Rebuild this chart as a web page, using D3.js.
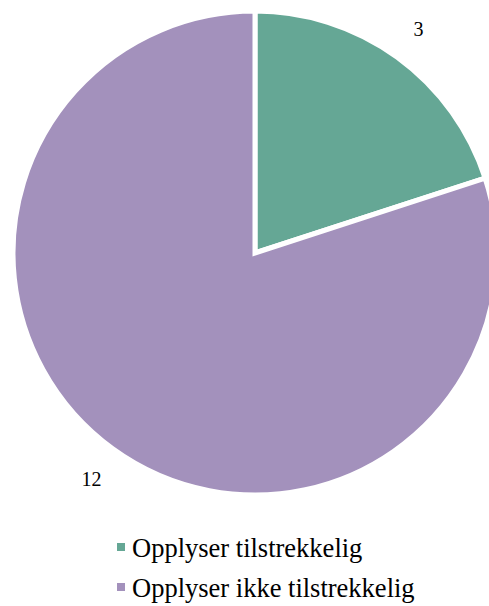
<!DOCTYPE html>
<html>
<head>
<meta charset="utf-8">
<script src="https://cdn.jsdelivr.net/npm/d3@7"></script>
<style>
  html, body { margin: 0; padding: 0; background: #fff; }
  svg { display: block; }
</style>
</head>
<body>
<svg id="chart" width="489" height="606"></svg>
<script>
const categories = ["Opplyser tilstrekkelig", "Opplyser ikke tilstrekkelig"];
const values = [3, 12];
const colors = ["#65a795", "#a391bc"];

const serif = "Liberation Serif, serif";
const svg = d3.select("#chart");
const cx = 255, cy = 253, radius = 242;

const pie = d3.pie().sort(null).value(d => d)(values);
const arc = d3.arc().innerRadius(0).outerRadius(radius);
const labelArc = d3.arc().innerRadius(278).outerRadius(278);

const g = svg.append("g").attr("transform", `translate(${cx},${cy})`);

g.selectAll("path.slice")
  .data(pie)
  .join("path")
  .attr("class", "slice")
  .attr("d", arc)
  .attr("fill", (d, i) => colors[i])
  .attr("stroke", "#fff")
  .attr("stroke-width", 5)
  .attr("stroke-linejoin", "miter");

// value labels just outside each slice
g.selectAll("text.val")
  .data(pie)
  .join("text")
  .attr("class", "val")
  .attr("transform", d => `translate(${labelArc.centroid(d)})`)
  .attr("text-anchor", "middle")
  .attr("dy", "0.4em")
  .attr("font-family", serif)
  .attr("font-size", 20)
  .attr("fill", "#000")
  .text(d => d.data);

// legend below the pie
const legend = svg.append("g").attr("transform", "translate(117,543)");
const item = legend.selectAll("g")
  .data(categories)
  .join("g")
  .attr("transform", (d, i) => `translate(0,${i * 40})`);

item.append("rect")
  .attr("width", 8)
  .attr("height", 8)
  .attr("fill", (d, i) => colors[i]);

item.append("text")
  .attr("x", 15)
  .attr("y", 14)
  .attr("font-family", serif)
  .attr("font-size", 26.5)
  .attr("fill", "#000")
  .text(d => d);
</script>
</body>
</html>
